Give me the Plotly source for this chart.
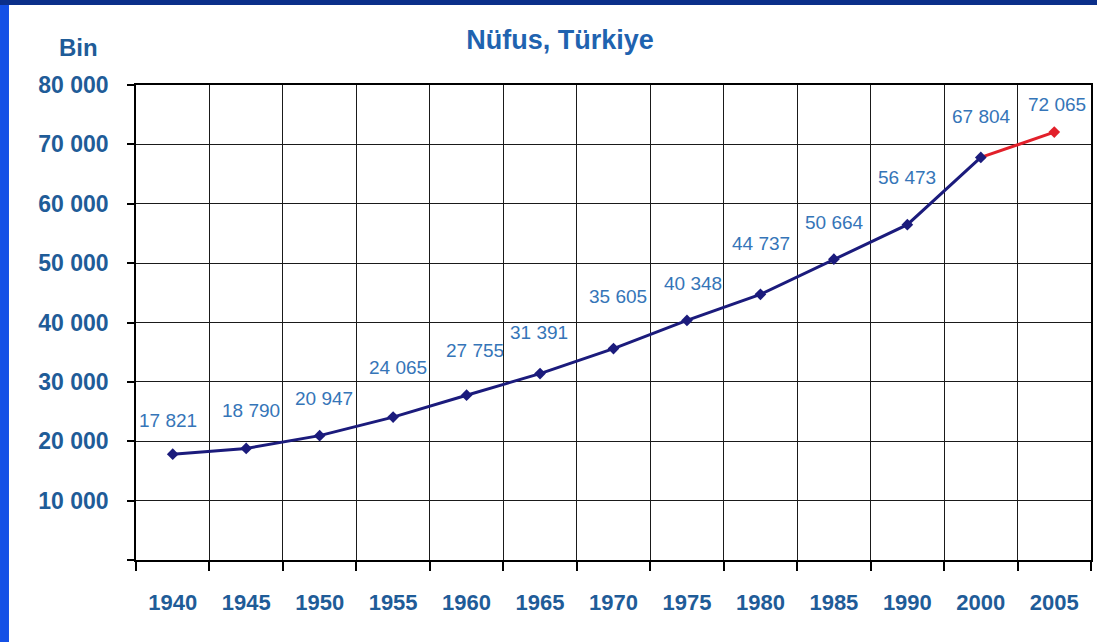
import plotly.graph_objects as go

years = ["1940", "1945", "1950", "1955", "1960", "1965", "1970", "1975",
         "1980", "1985", "1990", "2000", "2005"]
population = [17821, 18790, 20947, 24065, 27755, 31391, 35605, 40348,
              44737, 50664, 56473, 67804, 72065]
y_ticks = [0, 10000, 20000, 30000, 40000, 50000, 60000, 70000, 80000]
y_tick_text = ["", "10 000", "20 000", "30 000", "40 000", "50 000",
               "60 000", "70 000", "80 000"]

# label pixel offsets (styling only)
label_dx = [-5, 5, 4, 5, 8, -1, 4, 6, 1, 1, 0, 1, 3]
label_dy = [34, 38, 37, 50, 45, 41, 52, 37, 51, 37, 47, 41, 28]

def fmt(v):
    return f"{v:,}".replace(",", " ")

xs = list(range(len(years)))
NAVY = "#1B1B7C"
RED = "#E2202A"
TICK_BLUE = "#1F5C98"
LABEL_BLUE = "#3575B8"
FONT = "Liberation Sans, Arial"

fig = go.Figure()
fig.add_trace(go.Scatter(
    x=xs[-2:], y=population[-2:], mode="lines",
    line=dict(color=RED, width=3),
    showlegend=False, hoverinfo="skip"))
fig.add_trace(go.Scatter(
    x=[xs[-1]], y=[population[-1]], mode="markers",
    marker=dict(symbol="diamond", size=9, color=RED),
    showlegend=False, hoverinfo="skip"))
fig.add_trace(go.Scatter(
    x=xs[:-1], y=population[:-1], mode="lines+markers",
    line=dict(color=NAVY, width=3),
    marker=dict(symbol="diamond", size=9, color=NAVY),
    showlegend=False, hoverinfo="skip"))

for i, (x, v) in enumerate(zip(xs, population)):
    fig.add_annotation(x=x, y=v, xref="x", yref="y", text=fmt(v),
                       showarrow=False, xshift=label_dx[i], yshift=label_dy[i],
                       font=dict(family=FONT, size=19, color=LABEL_BLUE))

fig.add_annotation(x=-0.0597, y=1.078, xref="paper", yref="paper", text="<b>Bin</b>",
                   showarrow=False, xanchor="center", yanchor="middle",
                   font=dict(family=FONT, size=24, color=TICK_BLUE))

# slide frame decoration
fig.add_shape(type="rect", xref="paper", yref="paper", x0=-0.1424, x1=-0.133,
              y0=-0.18, y1=1.18, fillcolor="#1450E6", line=dict(width=0), layer="above")
fig.add_shape(type="rect", xref="paper", yref="paper", x0=-0.1424, x1=1.01,
              y0=1.1684, y1=1.18, fillcolor="#0B2F8A", line=dict(width=0), layer="above")

fig.update_layout(
    template="none",
    width=1097, height=642,
    margin=dict(l=136, r=6, t=85, b=82, autoexpand=False),
    paper_bgcolor="white", plot_bgcolor="white",
    title=dict(text="<b>Nüfus, Türkiye</b>", x=0.5105, y=0.9377,
               xref="container", yref="container", xanchor="center", yanchor="middle",
               font=dict(family=FONT, size=27, color="#1F63B0")),
    xaxis=dict(range=[-0.5, 12.5], tickvals=xs, ticktext=[f"<b>{y}</b>" for y in years],
               ticks="", showgrid=False, zeroline=False, automargin=False,
               showline=True, linecolor="black", linewidth=1.5, mirror=True,
               ticklabelstandoff=22,
               tickfont=dict(family=FONT, size=22, color=TICK_BLUE),
               minor=dict(tick0=-0.5, dtick=1, showgrid=True, gridcolor="#1a1a1a",
                          gridwidth=1.4, ticks="outside", ticklen=9,
                          tickcolor="black", tickwidth=1.5)),
    yaxis=dict(range=[0, 80000], tickvals=y_ticks,
               ticktext=[f"<b>{t}</b>" for t in y_tick_text],
               ticks="outside", ticklen=7, tickcolor="black", tickwidth=1.5,
               showgrid=True, gridcolor="#1a1a1a", gridwidth=1.4, zeroline=False,
               automargin=False,
               showline=True, linecolor="black", linewidth=1.5, mirror=True,
               ticklabelstandoff=14,
               tickfont=dict(family=FONT, size=23, color=TICK_BLUE)),
)

fig.write_html("out.html", config={"displayModeBar": False},
               post_script="document.body.style.margin='0';document.body.style.overflow='hidden';")
